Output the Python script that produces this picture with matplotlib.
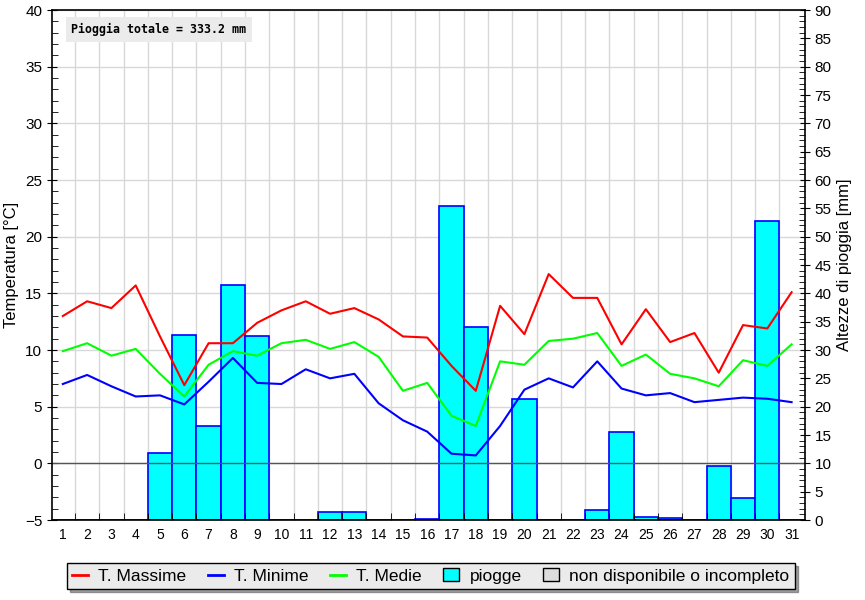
import matplotlib
matplotlib.use("Agg")
import matplotlib.pyplot as plt
from matplotlib.lines import Line2D
from matplotlib.patches import Patch
from matplotlib.ticker import MultipleLocator
import numpy as np

plt.rcParams['font.family'] = ['Liberation Sans', 'DejaVu Sans']

days = list(range(1, 32))
t_max = [13.0, 14.3, 13.7, 15.7, 11.2, 6.9, 10.6, 10.6, 12.4, 13.5,
         14.3, 13.2, 13.7, 12.7, 11.2, 11.1, 8.6, 6.4, 13.9, 11.4,
         16.7, 14.6, 14.6, 10.5, 13.6, 10.7, 11.5, 8.0, 12.2, 11.9, 15.1]
t_min = [7.0, 7.8, 6.8, 5.9, 6.0, 5.2, 7.2, 9.3, 7.1, 7.0,
         8.3, 7.5, 7.9, 5.3, 3.8, 2.8, 0.85, 0.7, 3.3, 6.5,
         7.5, 6.7, 9.0, 6.6, 6.0, 6.2, 5.4, 5.6, 5.8, 5.7, 5.4]
t_med = [9.9, 10.6, 9.5, 10.1, 7.9, 5.9, 8.7, 9.9, 9.5, 10.6,
         10.9, 10.1, 10.7, 9.4, 6.4, 7.1, 4.2, 3.3, 9.0, 8.7,
         10.8, 11.0, 11.5, 8.6, 9.6, 7.9, 7.5, 6.8, 9.1, 8.6, 10.5]
rain = [0, 0, 0, 0, 11.8, 32.6, 16.6, 41.5, 32.5, 0,
        0, 1.4, 1.4, 0, 0, 0.2, 55.4, 34.0, 0, 21.3,
        0, 0, 1.8, 15.5, 0.5, 0.4, 0, 9.5, 3.8, 52.8, 0]

fig = plt.figure(figsize=(8.65, 6.0), dpi=100)
rect = [0.060, 0.1333, 0.8706, 0.850]
xlim = (0.55, 31.55)

# background axes: grid only
bg = fig.add_axes(rect, zorder=0)
bg.set_xlim(xlim)
bg.set_ylim(-5, 40)
bg.set_xticks(np.arange(1.5, 31.5, 1))
bg.set_yticks(np.arange(-5, 41, 5))
bg.grid(True, color='#d8d8d8', linewidth=1)
bg.tick_params(left=False, bottom=False, labelleft=False, labelbottom=False)
for s in bg.spines.values():
    s.set_visible(False)

# rain axes
ax2 = fig.add_axes(rect, zorder=1)
ax2.patch.set_visible(False)
ax2.bar(days, rain, width=1.0, color='#00ffff', edgecolor='#0000ff', linewidth=1.2)
ax2.set_xlim(xlim)
ax2.set_ylim(0, 90)
ax2.yaxis.tick_right()
ax2.yaxis.set_label_position('right')
ax2.yaxis.set_major_locator(MultipleLocator(5))
ax2.yaxis.set_minor_locator(MultipleLocator(1))
ax2.tick_params(axis='y', which='major', direction='inout', length=7, labelsize=11)
ax2.tick_params(axis='y', which='minor', direction='in', length=4)
ax2.tick_params(axis='x', bottom=False, labelbottom=False)
ax2.set_ylabel('Altezze di pioggia [mm]', fontsize=12)
for s in ax2.spines.values():
    s.set_visible(False)

# temperature axes
ax = fig.add_axes(rect, zorder=2)
ax.patch.set_visible(False)
ax.axhline(0, color='#555555', linewidth=1)
ax.plot(days, t_max, color='#ff0000', linewidth=1.5)
ax.plot(days, t_min, color='#0000ff', linewidth=1.5)
ax.plot(days, t_med, color='#00ff00', linewidth=1.5)
ax.set_xlim(xlim)
ax.set_ylim(-5, 40)
ax.set_xticks(days)
ax.set_xticklabels([str(d) for d in days])
ax.set_xticks(np.arange(1.5, 31.5, 1), minor=True)
ax.tick_params(axis='x', which='major', length=0, labelsize=10, pad=6)
ax.tick_params(axis='x', which='minor', direction='in', length=5)
ax.yaxis.set_major_locator(MultipleLocator(5))
ax.yaxis.set_minor_locator(MultipleLocator(1))
ax.tick_params(axis='y', which='major', direction='inout', length=7, labelsize=11)
ax.tick_params(axis='y', which='minor', direction='in', length=4)
ax.set_ylabel('Temperatura [°C]', fontsize=12)
for s in ax.spines.values():
    s.set_linewidth(1.2)

ax.text(0.026, 0.962, 'Pioggia totale = 333.2 mm', transform=ax.transAxes,
        family='DejaVu Sans Mono', fontweight='bold', fontsize=8.4,
        va='center', ha='left',
        bbox=dict(facecolor='#ebebeb', edgecolor='none', boxstyle='square,pad=0.5'))

handles = [Line2D([], [], color='#ff0000', linewidth=2),
           Line2D([], [], color='#0000ff', linewidth=2),
           Line2D([], [], color='#00ff00', linewidth=2),
           Patch(facecolor='#00ffff', edgecolor='black'),
           Patch(facecolor='#dddddd', edgecolor='black')]
labels = ['T. Massime', 'T. Minime', 'T. Medie', 'piogge', 'non disponibile o incompleto']
leg = fig.legend(handles, labels, loc='center', bbox_to_anchor=(0.498, 0.04), ncol=5,
                 fontsize=12.5, frameon=True, fancybox=False, shadow=True,
                 handlelength=0.9, handleheight=0.8, handletextpad=0.6,
                 columnspacing=1.25, borderpad=0.3, borderaxespad=0.2)
leg.get_frame().set_facecolor('#ebebeb')
leg.get_frame().set_edgecolor('black')
leg.get_frame().set_alpha(1)

fig.savefig('out.png', dpi=100)
